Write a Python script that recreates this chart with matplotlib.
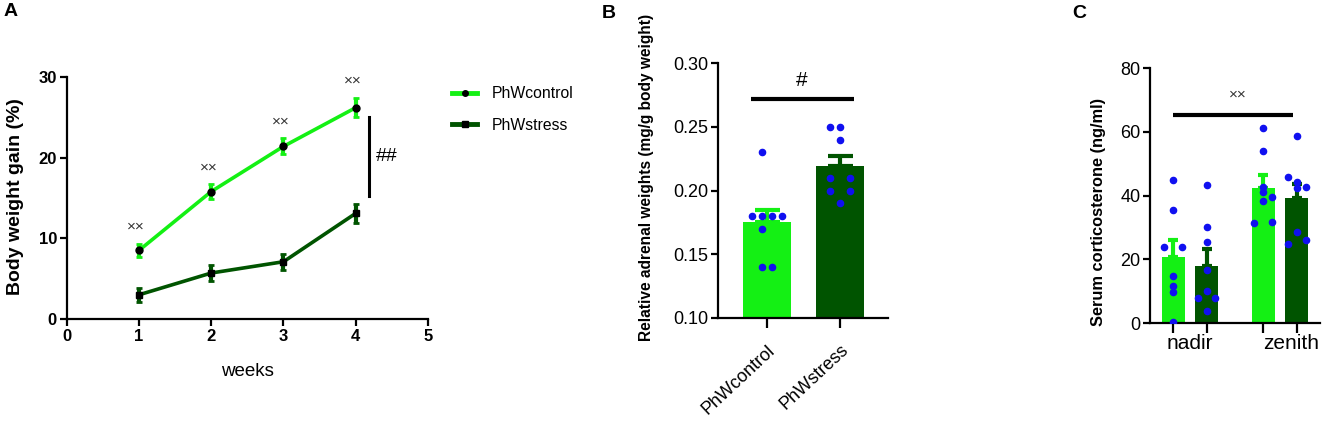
import matplotlib
matplotlib.use("Agg")
import matplotlib.pyplot as plt
from matplotlib.lines import Line2D

plt.rcParams['font.family'] = ['Liberation Sans', 'DejaVu Sans']

# ---------------- data ----------------
weeks = [1, 2, 3, 4]
ctrl_gain = [8.5, 15.8, 21.4, 26.2]
ctrl_err = [0.8, 0.9, 1.0, 1.2]
stress_gain = [3.0, 5.7, 7.1, 13.1]
stress_err = [0.85, 0.95, 1.0, 1.15]
groups_b = ['PhWcontrol', 'PhWstress']
adrenal_mean = [0.175, 0.219]
adrenal_err = [0.010, 0.008]
adrenal_ctrl_pts = [0.23, 0.18, 0.18, 0.18, 0.18, 0.17, 0.14, 0.14]
adrenal_stress_pts = [0.25, 0.25, 0.24, 0.21, 0.21, 0.20, 0.20, 0.19]
times_c = ['nadir', 'zenith']
cort_ctrl_mean = [20.6, 42.5]
cort_ctrl_err = [5.4, 3.9]
cort_stress_mean = [18.0, 39.1]
cort_stress_err = [5.1, 4.4]
cort_nadir_ctrl_pts = [44.9, 35.5, 23.9, 23.9, 14.7, 11.6, 9.7, 0.4]
cort_nadir_stress_pts = [43.3, 30.2, 25.3, 16.6, 10.0, 7.9, 7.9, 3.8]
cort_zenith_ctrl_pts = [61.1, 54.1, 42.8, 41.2, 38.4, 39.4, 31.5, 31.8]
cort_zenith_stress_pts = [58.7, 45.7, 44.3, 42.5, 42.6, 28.4, 24.9, 26.0]

# horizontal scatter offsets of the dots (layout only)
off_b_ctrl = [-0.073, -0.21, -0.073, 0.073, 0.21, -0.073, -0.073, 0.073]
off_b_stress = [-0.14, 0.0, 0.0, -0.14, 0.14, -0.14, 0.14, 0.0]
off_c_nc = [0, 0, -0.1, 0.1, 0, 0, 0, 0]
off_c_ns = [0, 0, 0, 0, 0, -0.096, 0.096, 0]
off_c_zc = [0, 0, 0, 0, 0, 0.1, -0.1, 0.1]
off_c_zs = [0, -0.1, 0, 0, 0.1, 0, -0.1, 0.1]

LIGHT = '#14f014'
DARK = '#005400'
DOT = '#1010f0'

W, H = 1325, 429
fig = plt.figure(figsize=(W / 100, H / 100), dpi=100)


def ax_px(l, r, top, bot):
    return fig.add_axes([l / W, 1 - bot / H, (r - l) / W, (bot - top) / H])


def fig_text(x, y, s, **kw):
    return fig.text(x / W, 1 - y / H, s, **kw)


def style(ax, bold=False, size=11):
    for s in ['top', 'right']:
        ax.spines[s].set_visible(False)
    for s in ['left', 'bottom']:
        ax.spines[s].set_linewidth(1.6)
    ax.tick_params(width=1.6, length=5, labelsize=size, pad=2)
    if bold:
        for t in ax.get_xticklabels() + ax.get_yticklabels():
            t.set_fontweight('bold')


# ---------------- Panel A ----------------
axA = ax_px(66.7, 428, 77, 319)
axA.errorbar(weeks, ctrl_gain, yerr=ctrl_err, color=LIGHT, lw=2.6, elinewidth=3,
             capsize=2.5, capthick=2, marker='o', ms=5, mfc='black', mec='black', zorder=3)
axA.errorbar(weeks, stress_gain, yerr=stress_err, color=DARK, lw=2.6, elinewidth=3,
             capsize=2.5, capthick=2, marker='s', ms=5, mfc='black', mec='black', zorder=3)
axA.set_xlim(0, 5)
axA.set_ylim(0, 30)
axA.set_xticks([0, 1, 2, 3, 4, 5])
axA.set_yticks([0, 10, 20, 30])
style(axA, bold=True, size=12)
fig_text(16, 197, 'Body weight gain (%)', fontsize=14, fontweight='bold',
         rotation=90, ha='center', va='center')
fig_text(247.5, 372, 'weeks', fontsize=13.5, ha='center', va='center')
for x, m, e in zip(weeks, ctrl_gain, ctrl_err):
    axA.text(x - 0.04, m + e + 2.1, '××', ha='center', va='center', fontsize=11, color='#333333')
axA.plot([4.19, 4.19], [15.2, 25.1], color='black', lw=2.2, clip_on=False)
axA.text(4.43, 20.1, '##', ha='center', va='center', fontsize=14, color='black')

handles = [Line2D([], [], color=LIGHT, lw=3.5, marker='o', ms=4, mfc='black', mec='black'),
           Line2D([], [], color=DARK, lw=3.5, marker='s', ms=4, mfc='black', mec='black')]
fig.legend(handles, ['PhWcontrol', 'PhWstress'], loc='upper left',
           bbox_to_anchor=(438 / W, 1 - 72 / H), frameon=False, fontsize=11.3,
           handlelength=1.6, handletextpad=0.95, labelspacing=1.05)

fig_text(4, 12, 'A', fontsize=14, fontweight='bold', va='center')

# ---------------- Panel B ----------------
axB = ax_px(718, 888, 63, 318)
xb = [0, 1]
colors_b = [LIGHT, DARK]
axB.bar(xb, adrenal_mean, width=0.66, color=colors_b, bottom=0, zorder=2)
for x, m, e, c in zip(xb, adrenal_mean, adrenal_err, colors_b):
    axB.errorbar([x], [m], yerr=[[0], [e]], color=c, elinewidth=3, capsize=9,
                 capthick=3, fmt='none', zorder=2)
axB.scatter([xb[0] + o for o in off_b_ctrl], adrenal_ctrl_pts, s=20, color=DOT, zorder=4)
axB.scatter([xb[1] + o for o in off_b_stress], adrenal_stress_pts, s=20, color=DOT, zorder=4)
axB.set_xlim(-0.671, 1.658)
axB.set_ylim(0.10, 0.30)
axB.set_yticks([0.10, 0.15, 0.20, 0.25, 0.30])
axB.set_yticklabels(['0.10', '0.15', '0.20', '0.25', '0.30'])
axB.set_xticks(xb)
axB.set_xticklabels(groups_b, rotation=43, ha='right', rotation_mode='anchor')
style(axB, size=13)
axB.tick_params(axis='x', length=7, pad=10)
fig_text(646, 177.5, 'Relative adrenal weights (mg/g body weight)', fontsize=11.2,
         fontweight='bold', rotation=90, ha='center', va='center')
axB.plot([-0.22, 1.19], [0.272, 0.272], color='black', lw=3, solid_capstyle='butt')
axB.text(0.48, 0.286, '#', ha='center', va='center', fontsize=15)
fig_text(602, 13, 'B', fontsize=14, fontweight='bold', va='center')

# ---------------- Panel C ----------------
axC = ax_px(1150, 1320, 68, 323)
d = 0.186
bw = 0.255
xc_ctrl = [0 - d, 1 - d]
xc_stress = [0 + d, 1 + d]
axC.bar(xc_ctrl, cort_ctrl_mean, width=bw, color=LIGHT, zorder=2)
axC.bar(xc_stress, cort_stress_mean, width=bw, color=DARK, zorder=2)
axC.errorbar(xc_ctrl, cort_ctrl_mean, yerr=[[0, 0], cort_ctrl_err], color=LIGHT,
             elinewidth=3, capsize=3.5, capthick=3, fmt='none', zorder=2)
axC.errorbar(xc_stress, cort_stress_mean, yerr=[[0, 0], cort_stress_err], color=DARK,
             elinewidth=3, capsize=3.5, capthick=3, fmt='none', zorder=2)
for base, offs, pts in [(xc_ctrl[0], off_c_nc, cort_nadir_ctrl_pts),
                        (xc_stress[0], off_c_ns, cort_nadir_stress_pts),
                        (xc_ctrl[1], off_c_zc, cort_zenith_ctrl_pts),
                        (xc_stress[1], off_c_zs, cort_zenith_stress_pts)]:
    axC.scatter([base + o for o in offs], pts, s=20, color=DOT, zorder=4)
axC.set_xlim(-0.444, 1.444)
axC.set_ylim(0, 80)
axC.set_yticks([0, 20, 40, 60, 80])
axC.set_xticks(xc_ctrl + xc_stress)
axC.set_xticklabels([])
style(axC, size=13)
axC.tick_params(axis='x', length=7)
for x, lab in zip([0.0, 1.12], times_c):
    axC.text(x, -3.5, lab, ha='center', va='top', fontsize=15)
fig_text(1098, 212, 'Serum corticosterone (ng/ml)', fontsize=11.8, fontweight='bold',
         rotation=90, ha='center', va='center')
axC.plot([-0.19, 1.14], [65.3, 65.3], color='black', lw=3, solid_capstyle='butt')
axC.text(0.53, 71.5, '××', ha='center', va='center', fontsize=11, color='#333333')
fig_text(1072, 13, 'C', fontsize=14, fontweight='bold', va='center')

fig.savefig('out.png', dpi=100)
